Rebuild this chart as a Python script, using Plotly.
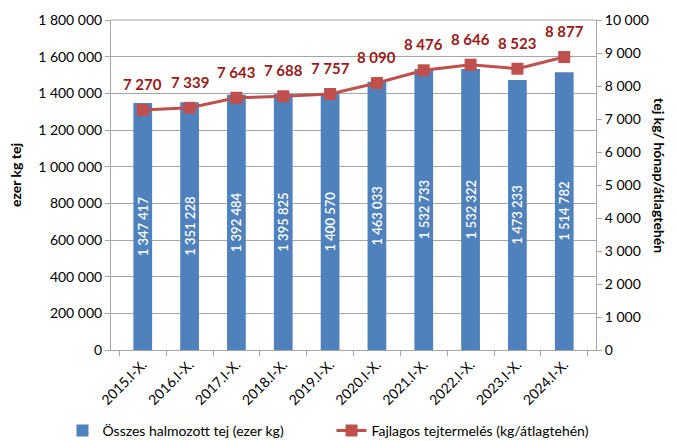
import plotly.graph_objects as go

categories = ["2015.I-X.", "2016.I-X.", "2017.I-X.", "2018.I-X.", "2019.I-X.",
              "2020.I-X.", "2021.I-X.", "2022.I-X.", "2023.I-X.", "2024.I-X."]
total_milk = [1347417, 1351228, 1392484, 1395825, 1400570,
              1463033, 1532733, 1532322, 1473233, 1514782]
yield_per_cow = [7270, 7339, 7643, 7688, 7757, 8090, 8476, 8646, 8523, 8877]

FONT = "Lato, 'Open Sans', sans-serif"
BLUE = "#4F81BD"
RED = "#C0504D"
DARKRED = "#9A1A1A"
GRID = "#A6A6A6"

def fmt(v):
    return f"{v:,}".replace(",", " ")

fig = go.Figure()
fig.add_trace(go.Bar(
    x=categories, y=total_milk, name="Összes halmozott tej (ezer kg)",
    marker=dict(color=BLUE, line=dict(width=0)), width=0.4,
    text=[fmt(v) for v in total_milk], textposition="inside",
    insidetextanchor="middle", textangle=-90, constraintext="none",
    textfont=dict(family=FONT, size=13, color="white", weight=600),
    hoverinfo="x+y",
))
fig.add_trace(go.Scatter(
    x=categories, y=yield_per_cow, name="Fajlagos tejtermelés (kg/átlagtehén)",
    yaxis="y2", mode="lines+markers",
    line=dict(color=RED, width=3),
    marker=dict(symbol="square", size=12, color=RED),
))

annotations = []
for c, v in zip(categories, yield_per_cow):
    annotations.append(dict(x=c, y=v, xref="x", yref="y2", text=fmt(v),
                            showarrow=False, yshift=26,
                            font=dict(family=FONT, size=15, color=DARKRED, weight="bold")))
annotations.append(dict(x=-0.198, y=0.53, xref="paper", yref="paper", xanchor="center", yanchor="middle",
                        text="ezer kg tej", showarrow=False, textangle=-90,
                        font=dict(family=FONT, size=14, color="black", weight="bold")))
annotations.append(dict(x=1.132, y=0.53, xref="paper", yref="paper", xanchor="center", yanchor="middle",
                        text="tej kg/ hónap/átlagtehén", showarrow=False, textangle=90,
                        font=dict(family=FONT, size=14, color="black", weight="bold")))

fig.update_layout(
    width=668, height=433,
    margin=dict(l=103, r=80, t=12, b=91, autoexpand=False),
    plot_bgcolor="white", paper_bgcolor="white",
    separators=", ",
    font=dict(family=FONT, size=14, color="black"),
    bargap=0.6,
    showlegend=True,
    legend=dict(orientation="h", x=-0.1, xanchor="left", y=-0.245, yanchor="middle",
                font=dict(family=FONT, size=14), itemwidth=30, entrywidth=224,
                traceorder="normal"),
    xaxis=dict(
        tickangle=-45, showline=True, linecolor=GRID, ticks="outside", tickcolor=GRID,
        ticklen=5, tickson="boundaries", showgrid=False, tickfont=dict(size=14),
        anchor="y", automargin=False,
    ),
    yaxis=dict(
        range=[0, 1800000], dtick=200000, tickformat=",d", showline=True,
        linecolor=GRID, ticks="outside", tickcolor=GRID, ticklen=5,
        showgrid=True, gridcolor=GRID, gridwidth=1, zeroline=False,
        tickfont=dict(size=14), automargin=False,
    ),
    yaxis2=dict(
        range=[0, 10000], dtick=1000, tickformat=",d", overlaying="y", side="right",
        showline=True, linecolor=GRID, ticks="outside", tickcolor=GRID, ticklen=5,
        showgrid=False, zeroline=False, tickfont=dict(size=14), automargin=False,
    ),
    annotations=annotations,
)
fig.add_shape(type="line", xref="paper", yref="paper", x0=0, x1=1, y0=1, y1=1,
              line=dict(color=GRID, width=1))

fig.write_html("out.html")
